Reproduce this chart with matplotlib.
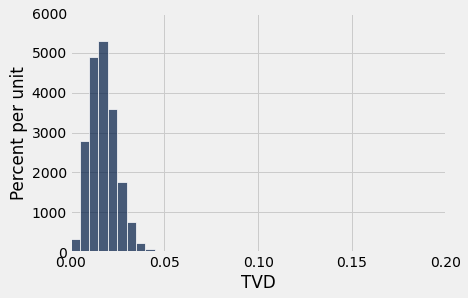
import numpy as np
import matplotlib
matplotlib.use('Agg')
import matplotlib.pyplot as plt

# bin edges (TVD) and heights (percent per unit)
bin_edges = [0.000, 0.005, 0.010, 0.015, 0.020, 0.025, 0.030, 0.035, 0.040, 0.045]
heights = [320, 2800, 4910, 5290, 3590, 1770, 750, 220, 70]
x_ticks = [0.00, 0.05, 0.10, 0.15, 0.20]
y_ticks = [0, 1000, 2000, 3000, 4000, 5000, 6000]

plt.style.use('fivethirtyeight')

fig = plt.figure(figsize=(6.5, 298/72), dpi=72)
ax = fig.add_axes([0.150, 0.154, 0.803, 0.802])

edges = np.array(bin_edges)
ax.bar(edges[:-1], heights, width=np.diff(edges), align='edge',
       color=(0.0, 0.102, 0.267), alpha=0.7, edgecolor='w', linewidth=1)

ax.set_xlim(0, 0.2)
ax.set_ylim(0, 6000)
ax.set_xticks(x_ticks)
ax.set_xticklabels(['%.2f' % t for t in x_ticks])
ax.set_yticks(y_ticks)
ax.set_xlabel('TVD')
ax.set_ylabel('Percent per unit')
ax.tick_params(length=0)

plt.savefig('out.png', dpi=72, facecolor=fig.get_facecolor())
